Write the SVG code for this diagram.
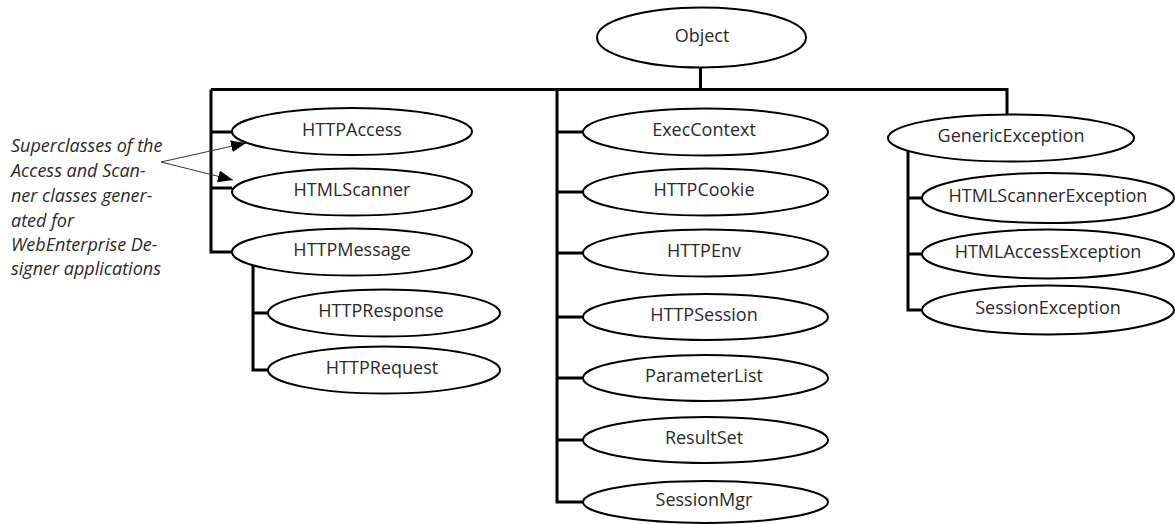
<svg xmlns="http://www.w3.org/2000/svg" width="1175" height="524" viewBox="0 0 1175 524">
<style>
.n ellipse{fill:#fff;stroke:#000;stroke-width:2}
.n text{font-family:"Open Sans","Noto Sans",sans-serif;font-size:18px;fill:#2a2a2a;text-anchor:middle}
.c path{fill:none;stroke:#000;stroke-width:3}
.a line{stroke:#333;stroke-width:1}
.note{font-family:"Open Sans","Noto Sans",sans-serif;font-style:italic;font-size:18px;fill:#2a2a2a}
</style>
<defs>
<marker id="ah" markerUnits="userSpaceOnUse" markerWidth="16" markerHeight="12" refX="15" refY="6" orient="auto">
<path d="M0,0 L15,6 L0,12 Z" fill="#000"/>
</marker>
</defs>
<g class="c" id="connectors">
<path d="M700.5,37 V89.5 M211,89.5 H1007 V138"/>
<path d="M211,89.5 V252 H232 M211,132 H232 M211,188 H232"/>
<path d="M253,252 V370 H268 M253,313 H268"/>
<path d="M557,89.5 V502 H583 M557,132 H583 M557,192 H583 M557,253 H583 M557,317 H583 M557,378 H583 M557,440 H583"/>
<path d="M908,138 V310 H922 M908,198 H922 M908,254 H922"/>
</g>
<g class="a" id="annotation-arrows">
<line x1="161" y1="162" x2="246" y2="143" marker-end="url(#ah)"/>
<line x1="161" y1="162" x2="233" y2="180" marker-end="url(#ah)"/>
</g>
<text class="note" id="annotation">
<tspan x="11" y="152">Superclasses of the</tspan>
<tspan x="11" y="177">Access and Scan-</tspan>
<tspan x="11" y="202">ner classes gener-</tspan>
<tspan x="11" y="227">ated for</tspan>
<tspan x="11" y="251">WebEnterprise De-</tspan>
<tspan x="11" y="275">signer applications</tspan>
</text>
<g class="n" id="Object"><ellipse cx="701.5" cy="37.5" rx="104.5" ry="30"/><text x="702" y="42">Object</text></g>
<g class="n" id="HTTPAccess"><ellipse cx="352" cy="131.5" rx="120" ry="23.5"/><text x="352" y="135.5">HTTPAccess</text></g>
<g class="n" id="HTMLScanner"><ellipse cx="352" cy="192" rx="120" ry="23.5"/><text x="352" y="196">HTMLScanner</text></g>
<g class="n" id="HTTPMessage"><ellipse cx="352" cy="252" rx="120" ry="23.5"/><text x="352" y="256">HTTPMessage</text></g>
<g class="n" id="HTTPResponse"><ellipse cx="384" cy="313" rx="116" ry="23.5"/><text x="381" y="317">HTTPResponse</text></g>
<g class="n" id="HTTPRequest"><ellipse cx="384" cy="370" rx="116" ry="23.5"/><text x="382" y="374">HTTPRequest</text></g>
<g class="n" id="ExecContext"><ellipse cx="705.5" cy="132" rx="122.5" ry="23.5"/><text x="704" y="136">ExecContext</text></g>
<g class="n" id="HTTPCookie"><ellipse cx="705.5" cy="192" rx="122.5" ry="23.5"/><text x="704" y="196">HTTPCookie</text></g>
<g class="n" id="HTTPEnv"><ellipse cx="705.5" cy="253" rx="122.5" ry="23.5"/><text x="704" y="257">HTTPEnv</text></g>
<g class="n" id="HTTPSession"><ellipse cx="705.5" cy="317" rx="122.5" ry="23"/><text x="704" y="321">HTTPSession</text></g>
<g class="n" id="ParameterList"><ellipse cx="705.5" cy="378" rx="122.5" ry="23"/><text x="704" y="382">ParameterList</text></g>
<g class="n" id="ResultSet"><ellipse cx="705.5" cy="440" rx="122.5" ry="23"/><text x="704" y="444">ResultSet</text></g>
<g class="n" id="SessionMgr"><ellipse cx="705.5" cy="502" rx="122.5" ry="21"/><text x="704" y="506">SessionMgr</text></g>
<g class="n" id="GenericException"><ellipse cx="1011" cy="138" rx="123" ry="23.5"/><text x="1011" y="142">GenericException</text></g>
<g class="n" id="HTMLScannerException"><ellipse cx="1048" cy="198" rx="126" ry="25"/><text x="1048" y="202">HTMLScannerException</text></g>
<g class="n" id="HTMLAccessException"><ellipse cx="1048" cy="254" rx="126" ry="24.5"/><text x="1048" y="258">HTMLAccessException</text></g>
<g class="n" id="SessionException"><ellipse cx="1048" cy="310" rx="126" ry="24.5"/><text x="1048" y="314">SessionException</text></g>
</svg>
